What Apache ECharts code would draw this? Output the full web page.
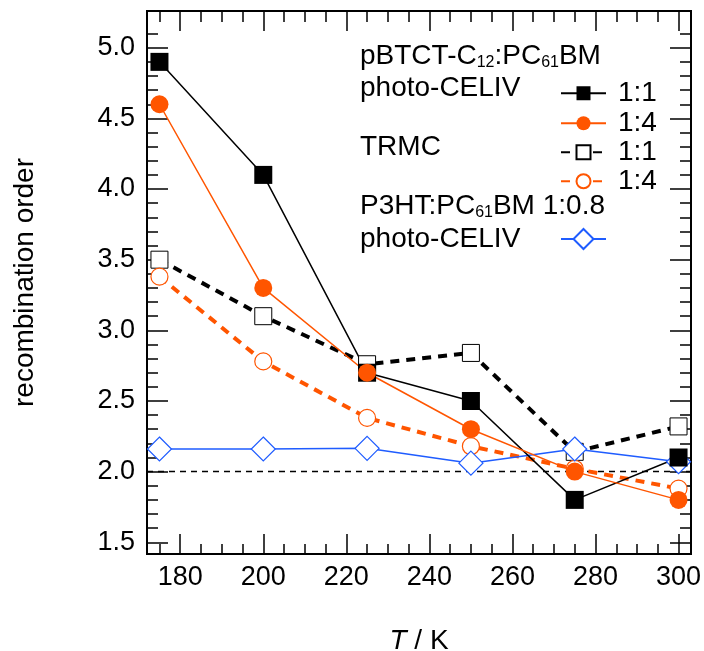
<!DOCTYPE html>
<html><head><meta charset="utf-8">
<script src="https://cdn.jsdelivr.net/npm/echarts@6/dist/echarts.min.js"></script>
<style>html,body{margin:0;padding:0;background:#fff;}#chart{width:704px;height:651px;}</style>
</head><body><div id="chart"></div>
<script>
// ---- data ----
const temperatures = [175, 200, 225, 250, 275, 300];
const celivPbtct11 = [4.9, 4.1, 2.7, 2.5, 1.8, 2.1];
const celivPbtct14 = [4.6, 3.3, 2.7, 2.3, 2.0, 1.8];
const trmcPbtct11 = [3.5, 3.1, 2.76, 2.84, 2.14, 2.32];
const trmcPbtct14 = [3.38, 2.78, 2.38, 2.18, 2.02, 1.88];
const celivP3ht = [2.16, 2.16, 2.165, 2.06, 2.16, 2.07];
const referenceOrder = 2.0;
const xMin = 172, xMax = 303;
const yMin = 1.417, yMax = 5.26;
const xMajorTicks = [180, 200, 220, 240, 260, 280, 300];
const xMinorTicks = [175, 185, 190, 195, 205, 210, 215, 225, 230, 235, 245, 250, 255, 265, 270, 275, 285, 290, 295];
const yMajorTicks = [1.5, 2.0, 2.5, 3.0, 3.5, 4.0, 4.5, 5.0];
const yMinorTicks = [1.6, 1.7, 1.8, 1.9, 2.1, 2.2, 2.3, 2.4, 2.6, 2.7, 2.8, 2.9, 3.1, 3.2, 3.3, 3.4, 3.6, 3.7, 3.8, 3.9, 4.1, 4.2, 4.3, 4.4, 4.6, 4.7, 4.8, 4.9, 5.1];

const FONT = "'Liberation Sans', Arial, Helvetica, sans-serif";
const ORANGE = '#ff5500';
const BLUE = '#1f5cff';
const zip = (xs, ys) => xs.map((x, i) => [x, ys[i]]);

function xAxisDef(position, ticks, len, withLabels) {
  return {
    type: 'value', position: position, min: xMin, max: xMax,
    axisLine: {show: true, lineStyle: {color: '#000', width: 2}},
    splitLine: {show: false},
    axisTick: {show: true, inside: true, length: len, customValues: ticks, lineStyle: {color: '#000', width: 1.5}},
    axisLabel: withLabels ? {show: true, customValues: ticks, color: '#000', fontSize: 27, fontFamily: FONT, margin: 10} : {show: false},
    name: withLabels ? '{i|T} / K' : '',
    nameLocation: 'middle', nameGap: 73,
    nameTextStyle: {color: '#000', fontSize: 28, fontFamily: FONT, rich: {i: {fontStyle: 'italic', fontSize: 28, fontFamily: FONT, color: '#000'}}}
  };
}
function yAxisDef(position, ticks, len, withLabels) {
  return {
    type: 'value', position: position, min: yMin, max: yMax,
    axisLine: {show: true, lineStyle: {color: '#000', width: 2}},
    splitLine: {show: false},
    axisTick: {show: true, inside: true, length: len, customValues: ticks, lineStyle: {color: '#000', width: 1.5}},
    axisLabel: withLabels ? {show: true, customValues: ticks, color: '#000', fontSize: 27, fontFamily: FONT, margin: 12, formatter: v => v.toFixed(1)} : {show: false},
    name: withLabels ? 'recombination order' : '',
    nameLocation: 'middle', nameGap: 108, nameRotate: 90,
    nameTextStyle: {color: '#000', fontSize: 28, fontFamily: FONT}
  };
}

const seriesDefs = [
  {name: 'ref', type: 'line', data: [[xMin, referenceOrder], [xMax, referenceOrder]], symbol: 'none',
   lineStyle: {color: '#000', width: 1.5, type: [6, 5]}, silent: true},
  {name: 'TRMC 1:1', type: 'line', data: zip(temperatures, trmcPbtct11), symbol: 'rect', symbolSize: 17,
   itemStyle: {color: '#fff', borderColor: '#000', borderWidth: 1},
   lineStyle: {color: '#000', width: 4, type: [9, 7]}},
  {name: 'TRMC 1:4', type: 'line', data: zip(temperatures, trmcPbtct14), symbol: 'circle', symbolSize: 17,
   itemStyle: {color: '#fff', borderColor: ORANGE, borderWidth: 1.2},
   lineStyle: {color: ORANGE, width: 4, type: [9, 7]}},
  {name: 'P3HT CELIV', type: 'line', data: zip(temperatures, celivP3ht), symbol: 'diamond', symbolSize: 24,
   itemStyle: {color: '#fff', borderColor: BLUE, borderWidth: 1.2},
   lineStyle: {color: BLUE, width: 1.5}},
  {name: 'CELIV 1:1', type: 'line', data: zip(temperatures, celivPbtct11), symbol: 'rect', symbolSize: 18,
   itemStyle: {color: '#000', borderWidth: 0},
   lineStyle: {color: '#000', width: 1.5}},
  {name: 'CELIV 1:4', type: 'line', data: zip(temperatures, celivPbtct14), symbol: 'circle', symbolSize: 18,
   itemStyle: {color: ORANGE, borderWidth: 0},
   lineStyle: {color: ORANGE, width: 1.5}}
].map(s => Object.assign({xAxisIndex: 0, yAxisIndex: 0, animation: false, clip: false, emphasis: {disabled: true}}, s));

function legendDef(name, label, centerY, itemHeight) {
  return {
    data: [name], left: 560, top: centerY - itemHeight / 2, padding: 0,
    itemWidth: 45, itemHeight: itemHeight, selectedMode: false,
    formatter: () => label,
    textStyle: {color: '#000', fontSize: 28, fontFamily: FONT, padding: [0, 0, 0, 7]}
  };
}

const textStyleBase = {fill: '#000', fontSize: 28, fontFamily: FONT, lineHeight: 30,
  rich: {s: {fontSize: 16, lineHeight: 17, verticalAlign: 'bottom', fontFamily: FONT, fill: '#000'}}};
function label(txt, centerY) {
  return {type: 'text', left: 360, top: centerY - 15, style: Object.assign({text: txt}, textStyleBase)};
}

const option = {
  backgroundColor: '#fff',
  animation: false,
  grid: {left: 147, right: 13, top: 11, bottom: 97, containLabel: false, outerBoundsMode: 'none'},
  xAxis: [
    xAxisDef('bottom', xMajorTicks, 20, true),
    xAxisDef('bottom', xMinorTicks, 10, false),
    xAxisDef('top', xMajorTicks, 20, false),
    xAxisDef('top', xMinorTicks, 11, false)
  ],
  yAxis: [
    yAxisDef('left', yMajorTicks, 21, true),
    yAxisDef('left', yMinorTicks, 11, false),
    yAxisDef('right', yMajorTicks, 21, false),
    yAxisDef('right', yMinorTicks, 11, false)
  ],
  legend: [
    legendDef('CELIV 1:1', '1:1', 88, 17.5),
    legendDef('CELIV 1:4', '1:4', 118, 17.5),
    legendDef('TRMC 1:1', '1:1', 147, 17.5),
    legendDef('TRMC 1:4', '1:4', 176, 17.5),
    legendDef('P3HT CELIV', '', 239, 25)
  ],
  graphic: [
    label('pBTCT-C{s|12}:PC{s|61}BM', 56),
    label('photo-CELIV', 88),
    label('TRMC', 147),
    label('P3HT:PC{s|61}BM 1:0.8', 206),
    label('photo-CELIV', 239)
  ],
  series: seriesDefs
};
const chart = echarts.init(document.getElementById('chart'), null, {renderer: 'canvas'});
chart.setOption(option);
</script></body></html>
